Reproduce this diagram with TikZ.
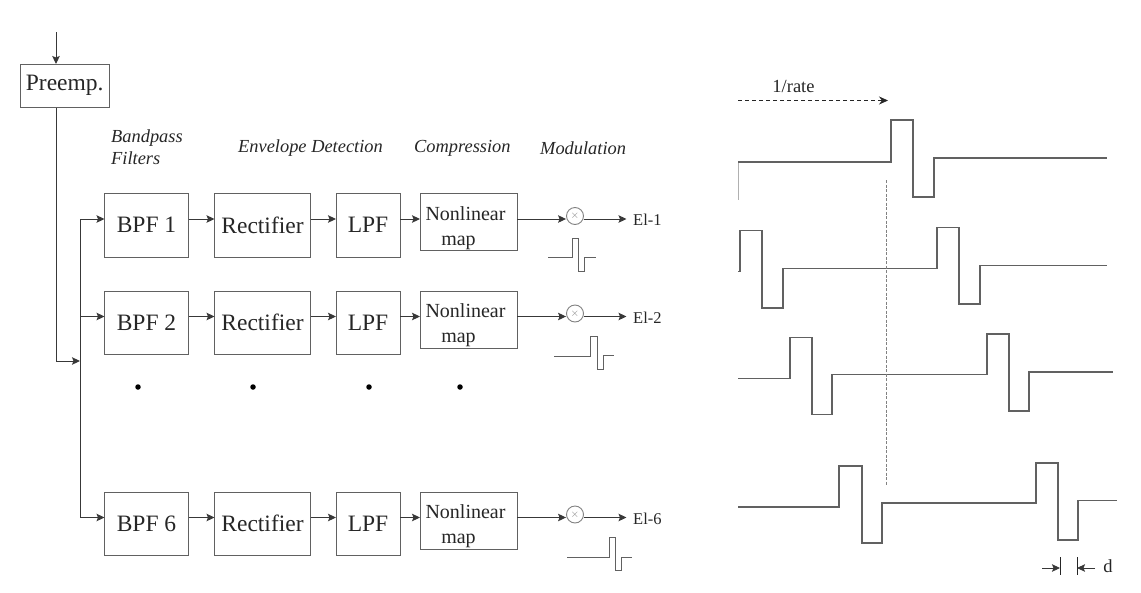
\documentclass[tikz,border=0pt]{standalone}
\usepackage{fontspec}
\setmainfont{Liberation Serif}
\usetikzlibrary{arrows.meta}
\definecolor{linegray}{gray}{0.38}
\definecolor{inkgray}{gray}{0.15}
\tikzset{
  box/.style={draw=linegray, line width=1pt, anchor=north west, inner sep=0pt, outer sep=0pt, text=inkgray, font=\fontsize{23.5}{25}\selectfont},
  mapbox/.style={box, align=center, font=\fontsize{20}{25}\selectfont},
  arr/.style={draw=inkgray!70!linegray, line width=1pt, -{Stealth[length=8pt,width=7.5pt,inset=1.5pt]}},
  wave/.style={draw=linegray, line width=1.2pt},
  pulse/.style={draw=linegray, line width=1pt},
  heading/.style={font=\fontsize{18.4}{22}\selectfont\itshape, text=inkgray, inner sep=0pt},
  elabel/.style={font=\fontsize{16.5}{20}\selectfont, text=inkgray, inner sep=0pt, anchor=west},
  mult/.style={circle, draw=linegray!80, line width=0.9pt, minimum size=17pt, inner sep=0pt, text=gray, font=\fontsize{11}{11}\selectfont},
  spot/.style={circle, fill=black, minimum size=5.5pt, inner sep=0pt}
}
\begin{document}
\begin{tikzpicture}[x=1pt,y=-1pt]
  \useasboundingbox (0,0) rectangle (1141,592);

  \node [box, minimum width=89.5pt, minimum height=43.5pt] (preemp) at (20,64) {Preemp.};
  \coordinate (in) at (56,32);
  \coordinate (bus) at (80,361);
  \draw [arr] (in) -- (in |- preemp.north);
  \draw [arr] (in |- preemp.south) |- (bus);

  \foreach \i/\y/\lab in {1/193.5/BPF 1,2/291/BPF 2,6/492/BPF 6} {
    \coordinate (r\i) at (0,\y+25.5);
    \node [box, minimum width=84pt, minimum height=63.5pt] (bpf\i) at (104.5,\y) {\lab};
    \node [box, minimum width=96pt, minimum height=63.5pt] (rect\i) at (214.5,\y) {Rectifier};
    \node [box, minimum width=64pt, minimum height=63.5pt] (lpf\i) at (336,\y) {LPF};
    \node [mapbox, minimum width=97pt, minimum height=57pt] (map\i) at (420,\y) {\rule{0pt}{26pt}Nonlinear\hspace{6pt}\mbox{}\\map\hspace{20pt}\mbox{}};
    \node [mult] (mul\i) at (575,\y+22.5) {$\times$};
    \node [elabel] (el\i) at (633,\y+26.5) {El-\i};
    \draw [arr] (bus) |- (bpf\i.west |- r\i);
    \draw [arr] (bpf\i.east |- r\i) -- (rect\i.west |- r\i);
    \draw [arr] (rect\i.east |- r\i) -- (lpf\i.west |- r\i);
    \draw [arr] (lpf\i.east |- r\i) -- (map\i.west |- r\i);
    \draw [arr] (map\i.east |- r\i) -- (mul\i.west |- r\i);
    \draw [arr] (mul\i.east |- r\i) -- (626.5,\y+25.5);
  }

  \node [heading, align=left, anchor=west] (bandpass) at (111,147) {Bandpass\\Filters};
  \node [heading, anchor=west] (envelope) at (238,148) {Envelope Detection};
  \node [heading, anchor=west] (compress) at (414,148) {Compression};
  \node [heading, anchor=west] (modulate) at (540,148) {Modulation};

  \node [spot] (dot1) at (138,387) {};
  \node [spot] (dot2) at (253,387) {};
  \node [spot] (dot3) at (369,387) {};
  \node [spot] (dot4) at (460,387) {};

  % pulses under the multipliers
  \draw [pulse] (548,257) -- (572,257) -- (572,238) -- (578,238) -- (578,271) -- (584,271) -- (584,257) -- (596,257);
  \draw [pulse] (554,356) -- (590,356) -- (590,336) -- (597,336) -- (597,369) -- (603,369) -- (603,355) -- (614,355);
  \draw [pulse] (567,557) -- (609,557) -- (609,537) -- (615,537) -- (615,570) -- (621,570) -- (621,557) -- (632,557);

  % pulse trains
  \node [font=\fontsize{18.5}{20}\selectfont, text=inkgray, inner sep=0pt] (rate) at (793.5,86) {1/rate};
  \coordinate (ratea) at (738,100.5);
  \coordinate (rateb) at (888,100.5);
  \draw [draw=inkgray, line width=0.8pt, dash pattern=on 4pt off 3pt, -{Stealth[length=9pt,width=8pt,inset=3pt]}] (ratea) -- (rateb);

  \draw [linegray!50, line width=0.6pt] (738,162) -- (738,200);
  \draw [wave] (738,162) -- (891,162) -- (891,120) -- (913,120) -- (913,197) -- (934,197) -- (934,158) -- (1107,158);
  \draw [wave] (738,271.5) -- (740,271.5) -- (740,230.5) -- (762,230.5) -- (762,308) -- (783,308) -- (783,268.5)
    -- (937,268.5) -- (937,227.5) -- (959,227.5) -- (959,304) -- (980,304) -- (980,265.5) -- (1107,265.5);
  \draw [wave] (738,378.5) -- (790,378.5) -- (790,337.5) -- (812,337.5) -- (812,414.5) -- (832,414.5) -- (832,374.5)
    -- (987,374.5) -- (987,334) -- (1009,334) -- (1009,411) -- (1029,411) -- (1029,372) -- (1113,372);
  \draw [wave] (738,507) -- (839,507) -- (839,466) -- (862,466) -- (862,543) -- (882,543) -- (882,503)
    -- (1036,503) -- (1036,463) -- (1058,463) -- (1058,540) -- (1078,540) -- (1078,500.5) -- (1117,500.5);

  \draw [linegray!80, line width=0.9pt, dash pattern=on 3pt off 1.5pt] (886,180) -- (886,485);

  % d marker
  \coordinate (da) at (1060,568);
  \coordinate (db) at (1077,568);
  \draw [draw=inkgray, line width=0.8pt] (1060,557) -- (1060,575);
  \draw [draw=inkgray, line width=0.8pt] (1077,557) -- (1077,575);
  \draw [arr, line width=0.8pt] (1042,568) -- (da);
  \draw [arr, line width=0.8pt] (1095,568) -- (db);
  \node [font=\fontsize{18.5}{20}\selectfont, text=inkgray, inner sep=0pt] (dlabel) at (1108,566) {d};
\end{tikzpicture}
\end{document}
